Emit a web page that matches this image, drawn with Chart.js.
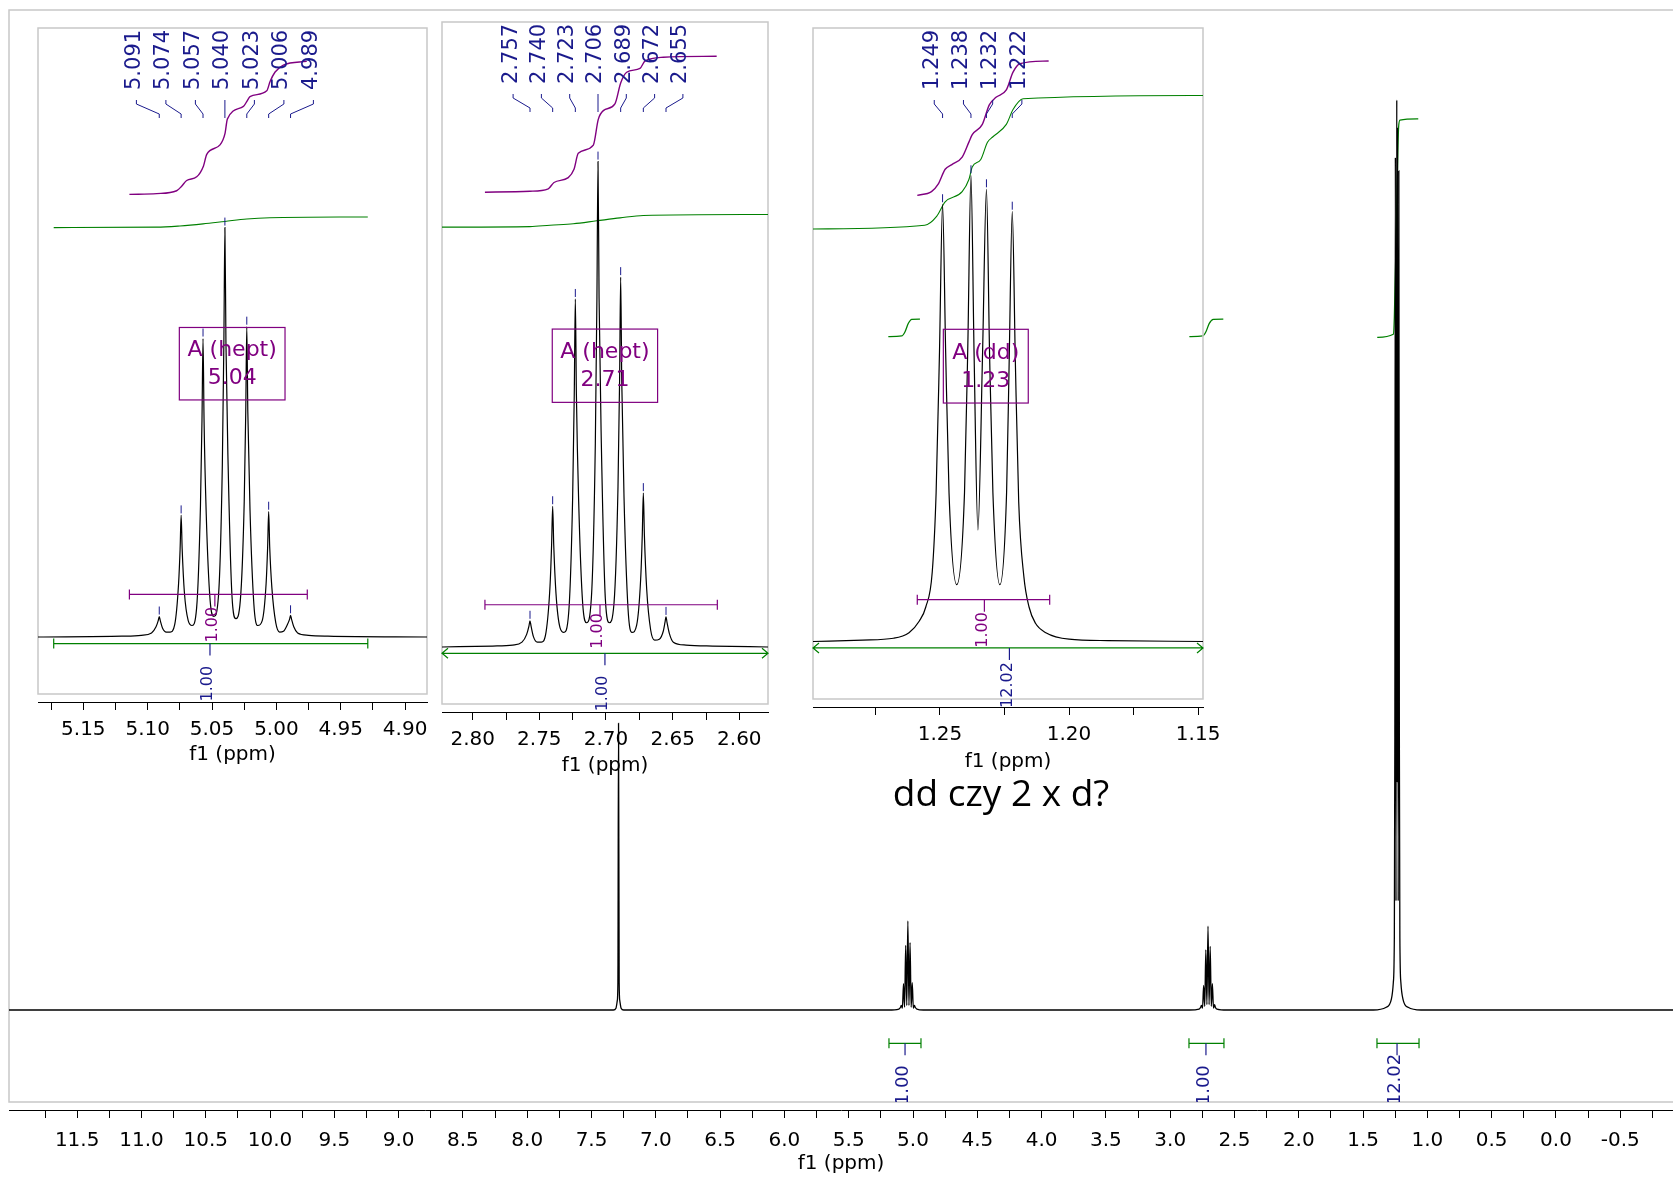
<!DOCTYPE html>
<html>
<head>
<meta charset="utf-8">
<script src="https://cdn.jsdelivr.net/npm/chart.js@4.4.1/dist/chart.umd.min.js"></script>
<style>
  html, body { margin: 0; padding: 0; background: #fff; }
  body { width: 1673px; height: 1178px; position: relative; overflow: hidden; }
  canvas { position: absolute; }
</style>
</head>
<body>
<canvas id="main" width="1673" height="1178" style="left:0;top:0"></canvas>
<canvas id="inset1" width="449" height="750" style="left:8px;top:22px"></canvas>
<canvas id="inset2" width="386" height="766" style="left:412px;top:16px"></canvas>
<canvas id="inset3" width="450" height="755" style="left:783px;top:22px"></canvas>
<script>
// Full spectrum (ppm, intensity; the 1.238 ppm line = 100)
const mainPpm = [12.03, 7.33, 7.31, 7.30, 7.295, 7.29, 7.285, 7.28, 7.27, 7.25,
  5.19, 5.11, 5.097, 5.091, 5.0825, 5.074, 5.0655, 5.057, 5.0485, 5.040, 5.0315, 5.023, 5.0145, 5.006, 4.9975, 4.989, 4.983, 4.97, 4.92,
  2.85, 2.775, 2.763, 2.757, 2.7485, 2.740, 2.7315, 2.723, 2.7145, 2.706, 2.6975, 2.689, 2.6805, 2.672, 2.6635, 2.655, 2.649, 2.637, 2.56,
  1.42, 1.32, 1.28, 1.265, 1.257, 1.253, 1.249, 1.244, 1.238, 1.235, 1.232, 1.227, 1.222, 1.218, 1.214, 1.206, 1.19, 1.15, 1.05, -0.91];
const mainIntensity = [0, 0, 0.2, 1.0, 3, 31.5, 3, 1.0, 0.2, 0,
  0, 0.1, 0.3, 0.5, 0.2, 2.9, 0.3, 7.1, 0.5, 9.8, 0.5, 7.4, 0.3, 3.0, 0.2, 0.5, 0.3, 0.1, 0,
  0, 0.1, 0.3, 0.5, 0.2, 2.7, 0.4, 6.6, 0.6, 9.2, 0.6, 7.0, 0.4, 2.9, 0.2, 0.6, 0.3, 0.1, 0,
  0, 0.3, 1.2, 3, 8, 30, 93.7, 12, 100, 25, 97, 12, 92.2, 30, 8, 3, 1.2, 0.3, 0, 0];

// Integral curves of the full spectrum
const mainInt1Ppm = [5.192, 5.088, 5.062, 5.036, 5.010, 4.946];
const mainInt1Level = [74.0, 74.07, 74.54, 75.46, 75.90, 75.93];
const mainInt2Ppm = [2.851, 2.747, 2.722, 2.696, 2.665, 2.587];
const mainInt2Level = [74.0, 74.07, 74.54, 75.46, 75.90, 75.93];
const mainInt3Ppm = [1.390, 1.265, 1.257, 1.239, 1.224, 1.213, 1.071];
const mainInt3Level = [73.92, 74.26, 76.08, 87.53, 96.98, 97.79, 97.92];

// Integration ranges under the full spectrum
const mainRangeFrom = [5.187, 2.854, 1.392];
const mainRangeTo = [4.938, 2.582, 1.065];
const mainRangeMid = [5.062, 2.722, 1.236];
const mainRangeValue = ['1.00', '1.00', '12.02'];

const mainMajorTicks = [11.5, 11.0, 10.5, 10.0, 9.5, 9.0, 8.5, 8.0, 7.5, 7.0, 6.5, 6.0, 5.5, 5.0, 4.5, 4.0, 3.5, 3.0, 2.5, 2.0, 1.5, 1.0, 0.5, 0.0, -0.5];
const mainMinorTicks = [11.75, 11.25, 10.75, 10.25, 9.75, 9.25, 8.75, 8.25, 7.75, 7.25, 6.75, 6.25, 5.75, 5.25, 4.75, 4.25, 3.75, 3.25, 2.75, 2.25, 1.75, 1.25, 0.75, 0.25, -0.25, -0.75];

// Inset 1: 5.04 ppm septet (tallest line = 1)
const inset1Ppm = [5.1852, 5.120, 5.105, 5.097, 5.0935, 5.0918, 5.091, 5.0902, 5.0885, 5.0855, 5.0825, 5.079, 5.076, 5.0748, 5.074, 5.0732, 5.0715, 5.0685, 5.0655, 5.062, 5.059, 5.0578, 5.057, 5.0562, 5.0545, 5.0515, 5.0485, 5.045, 5.042, 5.0408, 5.040, 5.0392, 5.0375, 5.0345, 5.0315, 5.028, 5.025, 5.0238, 5.023, 5.0222, 5.0205, 5.0175, 5.0145, 5.011, 5.008, 5.0068, 5.006, 5.0052, 5.0035, 5.0005, 4.9975, 4.9945, 4.9915, 4.9898, 4.989, 4.9882, 4.9865, 4.9835, 4.975, 4.960, 4.883];
const inset1Intensity = [0, 0.002, 0.004, 0.010, 0.025, 0.040, 0.050, 0.040, 0.022, 0.012, 0.012, 0.030, 0.130, 0.215, 0.297, 0.215, 0.110, 0.040, 0.028, 0.070, 0.320, 0.530, 0.729, 0.530, 0.300, 0.090, 0.050, 0.100, 0.420, 0.720, 1.000, 0.720, 0.420, 0.100, 0.045, 0.090, 0.330, 0.550, 0.758, 0.550, 0.310, 0.080, 0.028, 0.040, 0.130, 0.220, 0.306, 0.220, 0.120, 0.035, 0.012, 0.014, 0.030, 0.043, 0.053, 0.043, 0.025, 0.010, 0.004, 0.002, 0];
const inset1Peaks = [5.091, 5.074, 5.057, 5.040, 5.023, 5.006, 4.989];
const inset1GreenPpm = [5.173, 5.093, 5.075, 5.057, 5.040, 5.023, 5.005, 4.929];
const inset1GreenLevel = [1.000, 1.001, 1.004, 1.009, 1.015, 1.021, 1.024, 1.026];
const inset1PurplePpm = [5.1142, 5.093, 5.0775, 5.0736, 5.0697, 5.0619, 5.0567, 5.0541, 5.0438, 5.0399, 5.0381, 5.0256, 5.0228, 5.0205, 5.0075, 5.0049, 5.001, 4.9946, 4.9764];
const inset1PurpleLevel = [1.081, 1.083, 1.090, 1.101, 1.115, 1.124, 1.150, 1.179, 1.202, 1.230, 1.265, 1.296, 1.309, 1.320, 1.334, 1.357, 1.380, 1.397, 1.406];
const inset1MajorTicks = [5.15, 5.10, 5.05, 5.00, 4.95, 4.90];
const inset1MinorTicks = [5.175, 5.125, 5.075, 5.025, 4.975, 4.925];

// Inset 2: 2.71 ppm septet
const inset2Ppm = [2.823, 2.785, 2.770, 2.763, 2.7595, 2.7578, 2.757, 2.7562, 2.7545, 2.7515, 2.7485, 2.745, 2.742, 2.7408, 2.740, 2.7392, 2.7375, 2.7345, 2.7315, 2.728, 2.725, 2.7238, 2.723, 2.7222, 2.7205, 2.7175, 2.7145, 2.711, 2.708, 2.7068, 2.706, 2.7052, 2.7035, 2.7005, 2.6975, 2.694, 2.691, 2.6898, 2.689, 2.6882, 2.6865, 2.6835, 2.6805, 2.677, 2.674, 2.6728, 2.672, 2.6712, 2.6695, 2.6665, 2.6635, 2.660, 2.657, 2.6558, 2.655, 2.6542, 2.6525, 2.6495, 2.640, 2.620, 2.5785];
const inset2Intensity = [0, 0.002, 0.004, 0.010, 0.026, 0.043, 0.054, 0.043, 0.022, 0.010, 0.010, 0.030, 0.125, 0.210, 0.290, 0.210, 0.110, 0.040, 0.030, 0.070, 0.310, 0.520, 0.717, 0.520, 0.300, 0.090, 0.050, 0.100, 0.420, 0.720, 1.000, 0.720, 0.420, 0.100, 0.050, 0.090, 0.330, 0.550, 0.762, 0.550, 0.310, 0.080, 0.030, 0.045, 0.140, 0.230, 0.317, 0.230, 0.120, 0.035, 0.014, 0.016, 0.033, 0.050, 0.062, 0.050, 0.028, 0.010, 0.004, 0.002, 0];
const inset2Peaks = [2.757, 2.740, 2.723, 2.706, 2.689, 2.672, 2.655];
const inset2GreenPpm = [2.823, 2.757, 2.742, 2.7245, 2.707, 2.6895, 2.672, 2.5785];
const inset2GreenLevel = [0.865, 0.866, 0.869, 0.872, 0.878, 0.884, 0.889, 0.891];
const inset2PurplePpm = [2.7908, 2.757, 2.7433, 2.739, 2.7283, 2.724, 2.7208, 2.7095, 2.7058, 2.702, 2.6933, 2.689, 2.6845, 2.6745, 2.6708, 2.657, 2.617];
const inset2PurpleLevel = [0.937, 0.939, 0.944, 0.957, 0.967, 0.984, 1.017, 1.034, 1.087, 1.105, 1.119, 1.162, 1.184, 1.192, 1.207, 1.215, 1.217];
const inset2MajorTicks = [2.80, 2.75, 2.70, 2.65, 2.60];
const inset2MinorTicks = [2.775, 2.725, 2.675, 2.625];

// Inset 3: 1.23 ppm group
const inset3Ppm = [1.2992, 1.280, 1.268, 1.262, 1.258, 1.2555, 1.253, 1.2515, 1.2502, 1.249, 1.2478, 1.2465, 1.2435, 1.2405, 1.2392, 1.238, 1.2368, 1.2353, 1.2335, 1.232, 1.2308, 1.2295, 1.2268, 1.2242, 1.2232, 1.222, 1.2208, 1.2195, 1.2175, 1.2155, 1.213, 1.209, 1.200, 1.185, 1.1481];
const inset3Intensity = [0.001, 0.004, 0.008, 0.020, 0.045, 0.075, 0.150, 0.320, 0.620, 0.938, 0.620, 0.320, 0.123, 0.320, 0.640, 1.000, 0.620, 0.240, 0.620, 0.970, 0.620, 0.320, 0.123, 0.320, 0.600, 0.922, 0.600, 0.300, 0.140, 0.075, 0.040, 0.020, 0.006, 0.003, 0.001];
const inset3Peaks = [1.249, 1.238, 1.232, 1.222];
const inset3GreenPpm = [1.2992, 1.2559, 1.2513, 1.248, 1.2414, 1.2388, 1.2375, 1.2342, 1.2316, 1.2296, 1.2243, 1.2217, 1.2178, 1.1481];
const inset3GreenLevel = [0.885, 0.893, 0.912, 0.943, 0.965, 0.991, 1.018, 1.034, 1.071, 1.082, 1.109, 1.141, 1.164, 1.171];
const inset3PurplePpm = [1.2588, 1.2533, 1.2507, 1.248, 1.2454, 1.2414, 1.2388, 1.2375, 1.2336, 1.2309, 1.2283, 1.2243, 1.2217, 1.2191, 1.2079];
const inset3PurpleLevel = [0.957, 0.965, 0.981, 1.013, 1.023, 1.039, 1.071, 1.087, 1.109, 1.151, 1.167, 1.183, 1.221, 1.239, 1.245];
const inset3MajorTicks = [1.25, 1.20, 1.15];
const inset3MinorTicks = [1.275, 1.225, 1.175];

const GREEN = '#008000';
const PURPLE = '#800080';
const BLUE = '#1a1a8c';
const GRAY = '#c8c8c8';
const FONT = "'DejaVu Sans', Verdana, sans-serif";

Chart.defaults.font.family = FONT;
Chart.defaults.color = '#000';

function toPoints(xs, ys) {
    return xs.map((x, i) => ({x: x, y: ys[i]}));
}

function lineSet(xs, ys, color, width) {
    return {
        data: toPoints(xs, ys),
        borderColor: color,
        borderWidth: width,
        pointRadius: 0,
        fill: false,
        cubicInterpolationMode: 'monotone'
    };
}

function ppmAxis(min, max, major, minor, digits, height, tickPad, titlePad) {
    return {
        type: 'linear',
        reverse: true,
        min: min,
        max: max,
        afterBuildTicks: (scale) => {
            scale.ticks = major.concat(minor).sort((a, b) => a - b).map(v => ({value: v}));
        },
        afterFit: (scale) => { scale.height = height; },
        grid: { drawOnChartArea: false, tickLength: 8, color: '#000' },
        border: { display: true, color: '#000', width: 1 },
        ticks: {
            autoSkip: false,
            maxRotation: 0,
            padding: tickPad,
            color: '#000',
            font: { size: 20 },
            callback: (v) => major.includes(v) ? v.toFixed(digits) : ''
        },
        title: {
            display: true,
            text: 'f1 (ppm)',
            color: '#000',
            font: { size: 20 },
            padding: { top: 0, bottom: titlePad }
        }
    };
}

// frame, integral brackets, peak labels, multiplet box
function decor(cfg) {
    return {
        id: 'decor',
        beforeDatasetsDraw(chart) {
            const {ctx, chartArea: a} = chart;
            ctx.save();
            ctx.strokeStyle = GRAY;
            ctx.lineWidth = 1.5;
            ctx.beginPath();
            if (cfg.openRight) {
                ctx.moveTo(a.right, a.top);
                ctx.lineTo(a.left, a.top);
                ctx.lineTo(a.left, a.bottom - 8);
                ctx.lineTo(a.right, a.bottom - 8);
            } else {
                ctx.rect(a.left, a.top, a.right - a.left, a.bottom - 8 - a.top);
            }
            ctx.stroke();
            ctx.restore();
        },
        afterDatasetsDraw(chart) {
            const {ctx, chartArea: a} = chart;
            const X = v => chart.scales.x.getPixelForValue(v);
            const Y = v => chart.scales.y.getPixelForValue(v);
            ctx.save();
            ctx.lineWidth = 1.2;

            (cfg.brackets || []).forEach(b => {
                const yb = Y(b.level);
                const x1 = X(b.from), x2 = X(b.to), xt = X(b.mid);
                ctx.strokeStyle = b.color;
                ctx.beginPath();
                ctx.moveTo(x1, yb);
                ctx.lineTo(x2, yb);
                if (b.arrows) {
                    ctx.moveTo(x1 + 6, yb - 5); ctx.lineTo(x1, yb); ctx.lineTo(x1 + 6, yb + 5);
                    ctx.moveTo(x2 - 6, yb - 5); ctx.lineTo(x2, yb); ctx.lineTo(x2 - 6, yb + 5);
                } else {
                    ctx.moveTo(x1, yb - 5); ctx.lineTo(x1, yb + 5);
                    ctx.moveTo(x2, yb - 5); ctx.lineTo(x2, yb + 5);
                }
                ctx.stroke();
                ctx.strokeStyle = b.labelColor;
                ctx.beginPath();
                ctx.moveTo(xt, yb);
                ctx.lineTo(xt, yb + 12);
                ctx.stroke();
                ctx.save();
                if (b.clip) {
                    ctx.beginPath();
                    ctx.rect(0, 0, chart.width, b.clip === 'box' ? a.bottom - 8 : a.bottom);
                    ctx.clip();
                }
                ctx.translate(xt - 2, yb + b.offset);
                ctx.rotate(-Math.PI / 2);
                ctx.font = b.size + 'px ' + FONT;
                ctx.fillStyle = b.labelColor;
                ctx.textAlign = 'left';
                ctx.textBaseline = 'middle';
                ctx.fillText(b.label, 0, 0);
                ctx.restore();
            });

            if (cfg.peaks) {
                const p = cfg.peaks;
                const px = p.ppm.map(X);
                const mean = px.reduce((s, v) => s + v, 0) / px.length;
                ctx.strokeStyle = BLUE;
                ctx.fillStyle = BLUE;
                ctx.lineWidth = 1;
                ctx.font = '21px ' + FONT;
                p.ppm.forEach((v, i) => {
                    const lx = mean + (i - (px.length - 1) / 2) * p.spacing;
                    const top = Y(p.spectrumY[p.spectrumX.indexOf(v)]);
                    ctx.beginPath();
                    ctx.moveTo(lx, a.top + 72);
                    ctx.lineTo(lx, a.top + 76);
                    ctx.lineTo(px[i], a.top + 86);
                    ctx.lineTo(px[i], a.top + 90);
                    ctx.moveTo(px[i], top - 10);
                    ctx.lineTo(px[i], top - 2);
                    ctx.stroke();
                    ctx.save();
                    ctx.translate(lx - 2, a.top + 62);
                    ctx.rotate(-Math.PI / 2);
                    ctx.textAlign = 'left';
                    ctx.textBaseline = 'middle';
                    ctx.fillText(v.toFixed(3), 0, 0);
                    ctx.restore();
                });
            }

            if (cfg.box) {
                const b = cfg.box;
                const x1 = X(b.from), x2 = X(b.to), y1 = Y(b.top), y2 = Y(b.bottom);
                ctx.strokeStyle = PURPLE;
                ctx.lineWidth = 1.2;
                ctx.strokeRect(x1, y1, x2 - x1, y2 - y1);
                ctx.fillStyle = PURPLE;
                ctx.font = '22px ' + FONT;
                ctx.textAlign = 'center';
                ctx.textBaseline = 'middle';
                const cx = (x1 + x2) / 2, cy = (y1 + y2) / 2;
                ctx.fillText(b.lines[0], cx, cy - 13);
                ctx.fillText(b.lines[1], cx, cy + 15);
            }

            if (cfg.note) {
                ctx.fillStyle = '#000';
                ctx.font = "37px 'Open Sans', sans-serif";
                ctx.textAlign = 'center';
                ctx.textBaseline = 'middle';
                ctx.fillText(cfg.note.text, X(cfg.note.ppm), Y(cfg.note.level));
            }
            ctx.restore();
        }
    };
}

function makeChart(id, cfg) {
    new Chart(document.getElementById(id), {
        type: 'line',
        data: { datasets: cfg.datasets },
        options: {
            responsive: false,
            animation: false,
            devicePixelRatio: 1,
            events: [],
            layout: { padding: cfg.padding },
            plugins: { legend: { display: false }, tooltip: { enabled: false } },
            scales: {
                x: ppmAxis(cfg.xMin, cfg.xMax, cfg.major, cfg.minor, cfg.digits, cfg.axisHeight, cfg.tickPad, cfg.titlePad),
                y: { display: false, min: cfg.yMin, max: cfg.yMax }
            }
        },
        plugins: [decor(cfg)]
    });
}

// Full spectrum
makeChart('main', {
    xMin: -0.91, xMax: 12.03, yMin: -10.99, yMax: 109.89,
    major: mainMajorTicks, minor: mainMinorTicks, digits: 1,
    axisHeight: 68, tickPad: 11, titlePad: 2,
    padding: { left: 9, top: 10, right: 0, bottom: 0 },
    openRight: true,
    datasets: [
        lineSet(mainPpm, mainIntensity, '#000', 1.3),
        lineSet(mainInt1Ppm, mainInt1Level, GREEN, 1.3),
        lineSet(mainInt2Ppm, mainInt2Level, GREEN, 1.3),
        lineSet(mainInt3Ppm, mainInt3Level, GREEN, 1.3)
    ],
    brackets: mainRangeFrom.map((f, i) => ({
        from: f, to: mainRangeTo[i], mid: mainRangeMid[i], level: -3.66,
        color: GREEN, labelColor: BLUE, label: mainRangeValue[i], size: 18, offset: 62, clip: 'box'
    })),
    note: { text: 'dd czy 2 x d?', ppm: 4.315, level: 23.6 }
});

makeChart('inset1', {
    xMin: 4.883, xMax: 5.1852, yMin: -0.1588, yMax: 1.4875,
    major: inset1MajorTicks, minor: inset1MinorTicks, digits: 2,
    axisHeight: 70, tickPad: 8, titlePad: 5,
    padding: { left: 30, top: 6, right: 30, bottom: 0 },
    datasets: [
        lineSet(inset1Ppm, inset1Intensity, '#000', 1.2),
        lineSet(inset1GreenPpm, inset1GreenLevel, GREEN, 1.1),
        lineSet(inset1PurplePpm, inset1PurpleLevel, PURPLE, 1.4)
    ],
    brackets: [
        { from: 5.1142, to: 4.976, mid: 5.0478, level: 0.104, color: PURPLE, labelColor: PURPLE, label: '1.00', size: 16, offset: 48 },
        { from: 5.173, to: 4.929, mid: 5.0516, level: -0.016, color: GREEN, labelColor: BLUE, label: '1.00', size: 16, offset: 58, clip: 'axis' }
    ],
    peaks: { ppm: inset1Peaks, spectrumX: inset1Ppm, spectrumY: inset1Intensity, spacing: 29.5 },
    box: { from: 5.0754, to: 4.9933, top: 0.756, bottom: 0.579, lines: ['A (hept)', '5.04'] }
});

makeChart('inset2', {
    xMin: 2.5785, xMax: 2.823, yMin: -0.1339, yMax: 1.2876,
    major: inset2MajorTicks, minor: inset2MinorTicks, digits: 2,
    axisHeight: 70, tickPad: 8, titlePad: 4,
    padding: { left: 30, top: 6, right: 30, bottom: 0 },
    datasets: [
        lineSet(inset2Ppm, inset2Intensity, '#000', 1.2),
        lineSet(inset2GreenPpm, inset2GreenLevel, GREEN, 1.1),
        lineSet(inset2PurplePpm, inset2PurpleLevel, PURPLE, 1.4)
    ],
    brackets: [
        { from: 2.7908, to: 2.6165, mid: 2.7045, level: 0.087, color: PURPLE, labelColor: PURPLE, label: '1.00', size: 16, offset: 44 },
        { from: 2.823, to: 2.5785, mid: 2.7008, level: -0.013, color: GREEN, labelColor: BLUE, label: '1.00', size: 16, offset: 58, clip: 'axis', arrows: true }
    ],
    peaks: { ppm: inset2Peaks, spectrumX: inset2Ppm, spectrumY: inset2Intensity, spacing: 28.3 },
    box: { from: 2.7403, to: 2.6613, top: 0.655, bottom: 0.504, lines: ['A (hept)', '2.71'] }
});

makeChart('inset3', {
    xMin: 1.1481, xMax: 1.2992, yMin: -0.1393, yMax: 1.3156,
    major: inset3MajorTicks, minor: inset3MinorTicks, digits: 2,
    axisHeight: 70, tickPad: 8, titlePad: 3,
    padding: { left: 30, top: 6, right: 30, bottom: 0 },
    datasets: [
        lineSet(inset3Ppm, inset3Intensity, '#000', 1.2),
        lineSet(inset3GreenPpm, inset3GreenLevel, GREEN, 1.1),
        lineSet(inset3PurplePpm, inset3PurpleLevel, PURPLE, 1.4)
    ],
    brackets: [
        { from: 1.2588, to: 1.2075, mid: 1.2328, level: 0.0906, color: PURPLE, labelColor: PURPLE, label: '1.00', size: 16, offset: 48 },
        { from: 1.2992, to: 1.1481, mid: 1.2231, level: -0.0128, color: GREEN, labelColor: BLUE, label: '12.02', size: 16, offset: 60, clip: 'axis', arrows: true }
    ],
    peaks: { ppm: inset3Peaks, spectrumX: inset3Ppm, spectrumY: inset3Intensity, spacing: 29.2 },
    box: { from: 1.2487, to: 1.2158, top: 0.670, bottom: 0.512, lines: ['A (dd)', '1.23'] }
});
</script>
</body>
</html>
